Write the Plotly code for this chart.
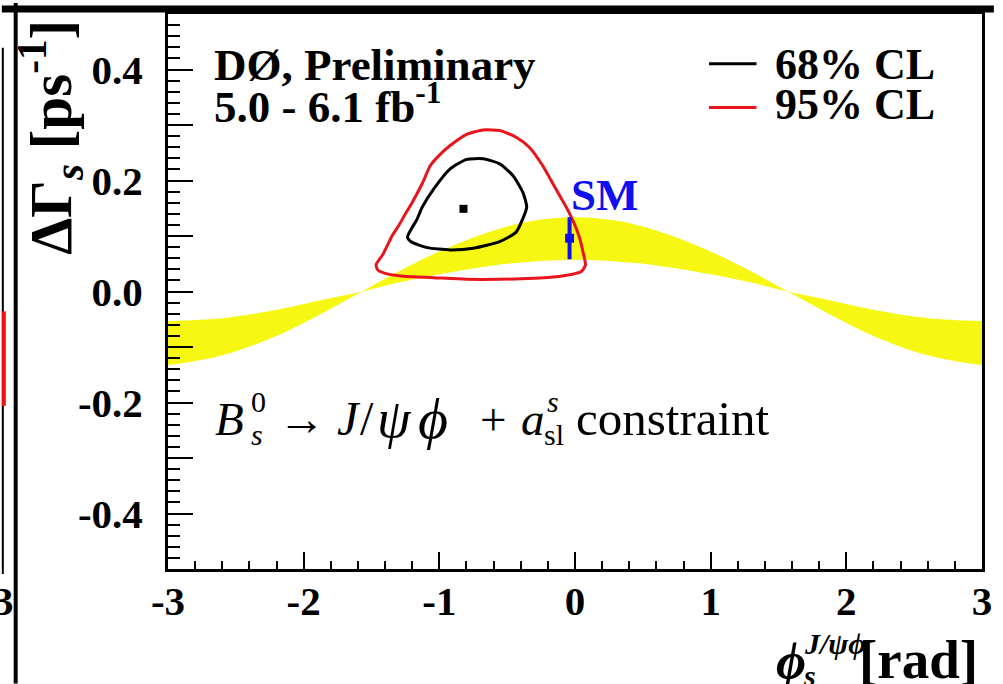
import plotly.graph_objects as go

# ---- data -------------------------------------------------------------
# a_sl^s constraint band: two edges in (phi_s, DeltaGamma_s)
phi_band = [-3.0, -2.6, -2.2, -1.9, -1.57, -1.3, -1.0, -0.6, -0.3, 0.0,
            0.3, 0.6, 1.0, 1.3, 1.57, 1.9, 2.2, 2.6, 3.0]
band_edge_a = [-0.133, -0.115, -0.080, -0.044, 0.0, 0.036, 0.072, 0.110, 0.128, 0.134,
               0.128, 0.110, 0.072, 0.036, 0.0, -0.044, -0.080, -0.115, -0.133]
band_edge_b = [-0.053, -0.048, -0.033, -0.017, 0.0, 0.016, 0.031, 0.047, 0.054, 0.057,
               0.054, 0.047, 0.031, 0.016, 0.0, -0.017, -0.033, -0.048, -0.053]

# 95% CL contour
phi_95 = [-1.466, -1.418, -1.381, -1.347, -1.299, -1.250, -1.201, -1.125, -1.066, -0.990,
          -0.920, -0.798, -0.676, -0.555, -0.434, -0.337, -0.239, -0.142, -0.045, 0.028,
          0.064, 0.077, 0.047, -0.118, -0.300, -0.555, -0.800, -1.041, -1.284, -1.405,
          -1.454, -1.466]
dg_95 = [0.048, 0.066, 0.084, 0.101, 0.119, 0.140, 0.160, 0.195, 0.227, 0.248,
         0.263, 0.283, 0.291, 0.290, 0.278, 0.260, 0.227, 0.185, 0.143, 0.101,
         0.066, 0.048, 0.036, 0.027, 0.024, 0.022, 0.022, 0.025, 0.028, 0.033,
         0.039, 0.048]

# 68% CL contour
phi_68 = [-1.235, -1.163, -1.126, -1.041, -0.920, -0.798, -0.676, -0.555, -0.458, -0.385,
          -0.356, -0.385, -0.434, -0.555, -0.749, -0.920, -1.090, -1.211, -1.235]
dg_68 = [0.098, 0.131, 0.152, 0.185, 0.221, 0.238, 0.239, 0.230, 0.209, 0.179,
         0.152, 0.131, 0.107, 0.090, 0.078, 0.075, 0.079, 0.090, 0.098]

# best fit point
best_phi = [-0.822]
best_dg = [0.149]

# Standard Model expectation
sm_phi = [-0.04]
sm_dg = [0.096]
sm_err = [0.038]

x_ticks = [-3, -2, -1, 0, 1, 2, 3]
x_labels = ["-3", "-2", "-1", "0", "1", "2", "3"]
y_ticks = [-0.4, -0.2, 0.0, 0.2, 0.4]
y_labels = ["-0.4", "-0.2", "0.0", "0.2", "0.4"]
y_ticks_odd = [-0.3, -0.1, 0.1, 0.3]

# ---- page geometry (pixels) -------------------------------------------
W, H = 1003, 684
L, R, T, B = 168, 991, 11, 569


def px(x):
    return (x - L) / (R - L)


def py(y):
    return (B - y) / (B - T)


SERIF = "Liberation Serif"
YELLOW = "#f7f714"
RED = "#e8141e"
BLUE = "#1010ee"

fig = go.Figure()

fig.add_trace(go.Scatter(x=phi_band, y=band_edge_a, mode="lines",
                         line=dict(width=0, color=YELLOW, shape="spline"),
                         hoverinfo="skip", showlegend=False))
fig.add_trace(go.Scatter(x=phi_band, y=band_edge_b, mode="lines",
                         line=dict(width=0, color=YELLOW, shape="spline"),
                         fill="tonexty", fillcolor=YELLOW,
                         hoverinfo="skip", showlegend=False))

fig.add_trace(go.Scatter(x=phi_95, y=dg_95, mode="lines",
                         line=dict(color=RED, width=3, shape="spline", smoothing=0.6),
                         name="95% CL", showlegend=False))
fig.add_trace(go.Scatter(x=phi_68, y=dg_68, mode="lines",
                         line=dict(color="black", width=3, shape="spline", smoothing=0.6),
                         name="68% CL", showlegend=False))

fig.add_trace(go.Scatter(x=best_phi, y=best_dg, mode="markers",
                         marker=dict(symbol="square", size=8, color="black"),
                         showlegend=False))

fig.add_trace(go.Scatter(x=sm_phi, y=sm_dg, mode="markers",
                         marker=dict(symbol="square", size=9, color=BLUE),
                         error_y=dict(type="data", array=sm_err, color=BLUE,
                                      thickness=4, width=0),
                         showlegend=False))

# invisible trace carrying the unlabeled long ticks at odd tenths
fig.add_trace(go.Scatter(x=[None], y=[None], yaxis="y2", mode="markers",
                         hoverinfo="skip", showlegend=False))

axis_font = dict(family=SERIF, size=41, color="black", weight="bold")

fig.update_layout(
    xaxis=dict(range=[-3, 3], tickmode="array", tickvals=x_ticks, ticktext=x_labels,
               ticks="inside", ticklen=17, tickwidth=2, tickcolor="black",
               tickfont=axis_font, ticklabelstandoff=-6,
               minor=dict(tickmode="linear", tick0=-3, dtick=0.2, ticks="inside",
                          ticklen=8, tickwidth=2, tickcolor="black"),
               showline=True, linecolor="black", linewidth=3, mirror=True,
               showgrid=False, zeroline=False),
    yaxis=dict(range=[-0.5, 0.5], tickmode="array", tickvals=y_ticks, ticktext=y_labels,
               ticks="inside", ticklen=25, tickwidth=2, tickcolor="black",
               tickfont=axis_font, ticklabelstandoff=14,
               minor=dict(tickmode="linear", tick0=-0.5, dtick=0.02, ticks="inside",
                          ticklen=12, tickwidth=2, tickcolor="black"),
               showline=True, linecolor="black", linewidth=3, mirror=True,
               showgrid=False, zeroline=False),
    yaxis2=dict(range=[-0.5, 0.5], overlaying="y", side="left", anchor="x",
                tickmode="array", tickvals=y_ticks_odd, showticklabels=False,
                ticks="inside", ticklen=25, tickwidth=2, tickcolor="black",
                showline=False, showgrid=False, zeroline=False),
)

ann = []


def text(s, x, y, size, xanchor="left", yanchor="middle", color="black",
         weight="bold", angle=0):
    ann.append(dict(text=s, xref="paper", yref="paper", x=px(x), y=py(y),
                    xanchor=xanchor, yanchor=yanchor, showarrow=False,
                    textangle=angle, borderpad=0,
                    font=dict(family=SERIF, size=size, color=color, weight=weight)))


# experiment labels
text("DØ, Preliminary", 214, 62, 45)
text("5.0 - 6.1 fb<sup>-1</sup>", 214, 101, 45)

# legend
text("68% CL", 781, 62, 44)
text("95% CL", 781, 102, 44)

# SM label
text("SM", 574, 193, 45, color=BLUE)

# constraint label
text("<i>B</i>", 215, 418, 47, weight="normal")
text("0", 251, 401, 30, weight="normal")
text("<i>s</i>", 251, 434, 30, weight="normal")
text("→", 278, 418, 47, weight="normal")
text("<i>J</i>", 338, 418, 48, weight="normal")
text("/", 361, 418, 48, weight="normal")
text("<i>ψ</i>", 378, 418, 54, weight="normal")
text("<i>ϕ</i>", 420, 418, 58, weight="normal")
text("+", 482, 418, 47, weight="normal")
text("<i>a</i>", 524, 418, 47, weight="normal")
text("<i>s</i>", 550, 401, 30, weight="normal")
text("sl", 547, 434, 30, weight="normal")
text("constraint", 580, 418, 49, weight="normal")

# axis titles
text("ΔΓ<sub><i>s</i></sub> [ps<sup>-1</sup>]", 49, 135, 59, xanchor="center", angle=-90)
text("<i>ϕ</i>", 782, 662, 52)
text("<i>J/ψϕ</i>", 810, 644, 30)
text("<i>s</i>", 809, 676, 30)
text("[rad]", 866, 660, 55)

# neighbouring panel edge
text("3", 13, 601, 41, xanchor="right")

fig.update_layout(annotations=ann)

shapes = [
    # legend samples
    dict(type="line", xref="paper", yref="paper", x0=px(715), x1=px(763),
         y0=py(61), y1=py(61), line=dict(color="black", width=3)),
    dict(type="line", xref="paper", yref="paper", x0=px(715), x1=px(763),
         y0=py(105), y1=py(105), line=dict(color=RED, width=3)),
    # page frame lines
    dict(type="line", xref="paper", yref="paper", x0=px(0), x1=px(W),
         y0=py(6), y1=py(6), line=dict(color="black", width=7)),
    dict(type="line", xref="paper", yref="paper", x0=px(14), x1=px(14),
         y0=py(0), y1=py(H), line=dict(color="black", width=4)),
    dict(type="line", xref="paper", yref="paper", x0=px(1), x1=px(1),
         y0=py(45), y1=py(574), line=dict(color="black", width=2)),
    dict(type="rect", xref="paper", yref="paper", x0=px(0), x1=px(4),
         y0=py(310), y1=py(405), fillcolor="#ee1111", line=dict(width=0)),
]
fig.update_layout(shapes=shapes)

fig.update_layout(width=W, height=H,
                  margin=dict(l=L, r=W - R, t=T, b=H - B),
                  paper_bgcolor="white", plot_bgcolor="white",
                  showlegend=False)

fig.write_html("out.html")
